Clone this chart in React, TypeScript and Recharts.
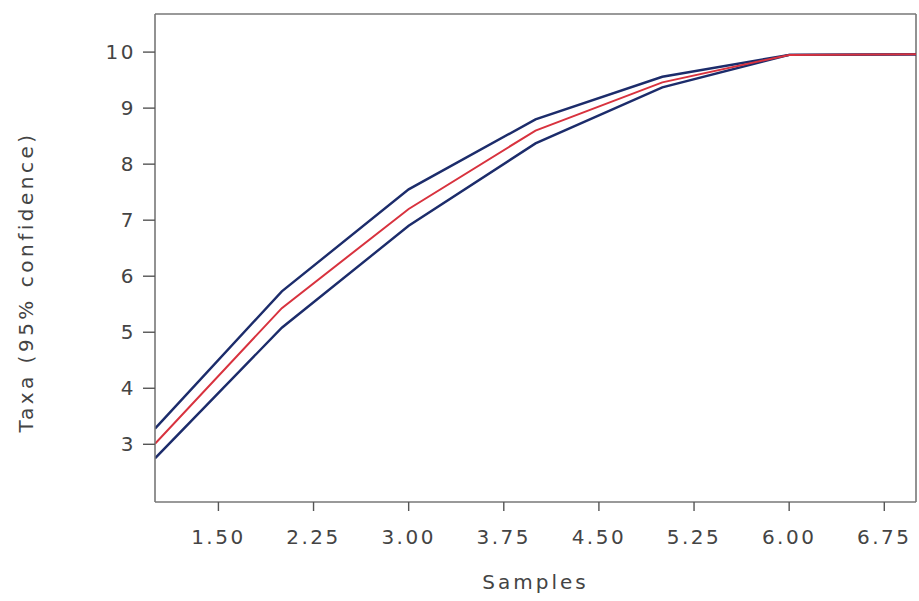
import React from "react";
import { LineChart, Line, XAxis, YAxis, ReferenceLine } from "recharts";

const samples = [1, 2, 3, 4, 5, 6, 7];
const upperCI = [3.28, 5.73, 7.55, 8.8, 9.56, 9.95, 9.96];
const meanTaxa = [3.01, 5.43, 7.2, 8.6, 9.46, 9.95, 9.96];
const lowerCI = [2.75, 5.08, 6.9, 8.37, 9.37, 9.95, 9.96];
const xTicks = [1.5, 2.25, 3.0, 3.75, 4.5, 5.25, 6.0, 6.75];
const yTicks = [3, 4, 5, 6, 7, 8, 9, 10];
const xDomain = [1, 7];
const yDomain = [1.97, 10.68];

const data = samples.map((s, i) => ({
  s,
  upper: upperCI[i],
  mean: meanTaxa[i],
  lower: lowerCI[i],
}));

const FONT = "'DejaVu Sans', sans-serif";
const tickStyle = { fontFamily: FONT, fontSize: 20, fill: "#444", letterSpacing: 2.5 };
const AXIS = "#777";
const NAVY = "#1c2c6b";
const RED = "#d8323e";

const YLabel = (props: any) => {
  const vb = props.viewBox || {};
  const cx = vb.x + 26;
  const cy = vb.y + vb.height / 2 + 24;
  return (
    <text
      x={cx}
      y={cy}
      transform={`rotate(-90, ${cx}, ${cy})`}
      textAnchor="middle"
      dominantBaseline="central"
      style={{ fontFamily: FONT, fontSize: 20, fill: "#444", letterSpacing: 3.5 }}
    >
      Taxa (95% confidence)
    </text>
  );
};

export default function App() {
  return (
    <div style={{ position: "absolute", left: 0, top: 0, background: "#fff" }}>
      <LineChart
        width={919}
        height={601}
        data={data}
        margin={{ top: 14, right: 3, left: 0, bottom: 0 }}
      >
        <XAxis
          dataKey="s"
          type="number"
          domain={xDomain}
          ticks={xTicks}
          allowDataOverflow
          tickFormatter={(v: number) => v.toFixed(2)}
          height={99}
          tickSize={9}
          tickMargin={19}
          tick={tickStyle}
          axisLine={{ stroke: AXIS, strokeWidth: 1.6 }}
          tickLine={{ stroke: "#555", strokeWidth: 1.4 }}
          label={{
            value: "Samples",
            position: "insideBottom",
            offset: 12,
            style: { fontFamily: FONT, fontSize: 20, fill: "#444", letterSpacing: 3 },
          }}
        />
        <YAxis
          type="number"
          domain={yDomain}
          ticks={yTicks}
          allowDataOverflow
          width={155}
          tickSize={12}
          tickMargin={7}
          tick={tickStyle}
          axisLine={{ stroke: AXIS, strokeWidth: 1.6 }}
          tickLine={{ stroke: "#555", strokeWidth: 1.4 }}
          label={<YLabel />}
        />
        <ReferenceLine y={yDomain[1]} stroke={AXIS} strokeWidth={1.6} ifOverflow="extendDomain" />
        <ReferenceLine x={xDomain[1]} stroke={AXIS} strokeWidth={1.6} ifOverflow="extendDomain" />
        <Line
          type="linear"
          dataKey="upper"
          stroke={NAVY}
          strokeWidth={2.4}
          dot={false}
          isAnimationActive={false}
        />
        <Line
          type="linear"
          dataKey="lower"
          stroke={NAVY}
          strokeWidth={2.4}
          dot={false}
          isAnimationActive={false}
        />
        <Line
          type="linear"
          dataKey="mean"
          stroke={RED}
          strokeWidth={2}
          dot={false}
          isAnimationActive={false}
        />
      </LineChart>
    </div>
  );
}
